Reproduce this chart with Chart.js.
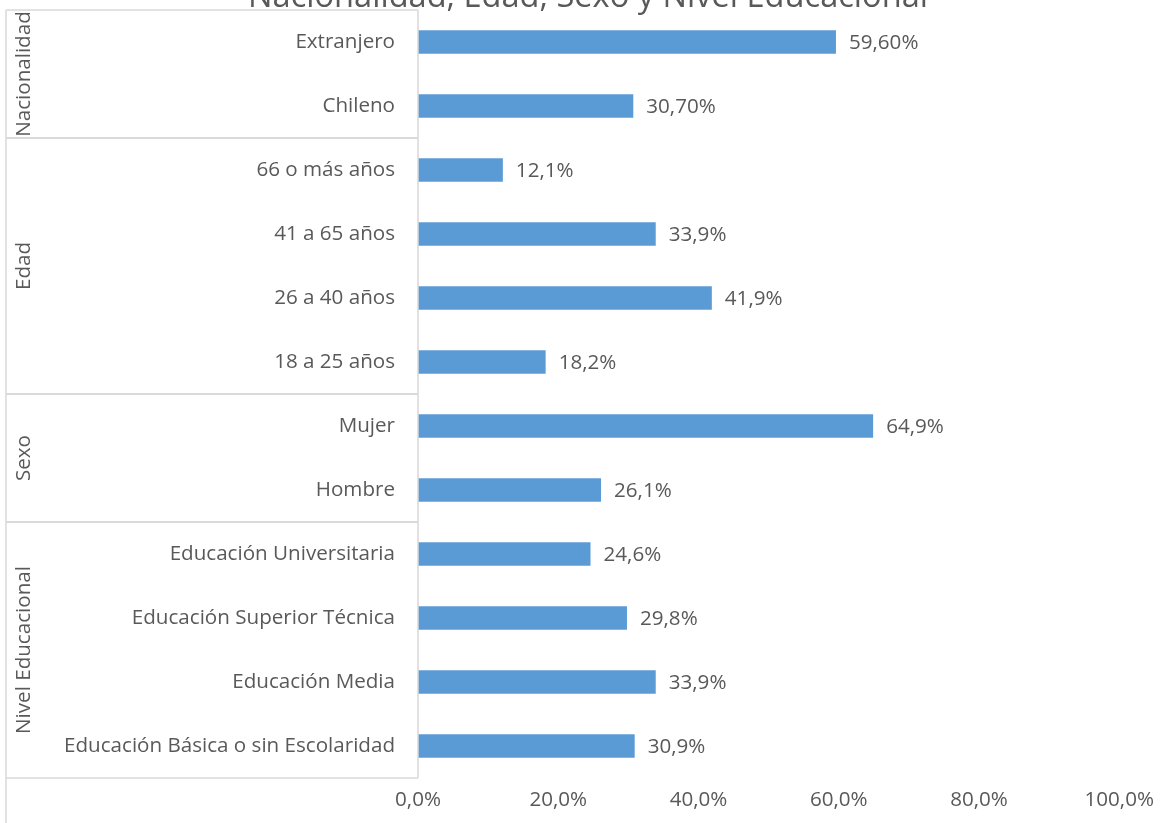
<!DOCTYPE html>
<html>
<head>
<meta charset="utf-8">
<script src="https://cdn.jsdelivr.net/npm/chart.js@4.4.1/dist/chart.umd.min.js"></script>
<style>
  html, body { margin: 0; padding: 0; background: #fff; }
  #wrap { width: 1164px; height: 823px; position: relative; }
</style>
</head>
<body>
<div id="wrap"><canvas id="barChart"></canvas></div>
<script>
const ctx = document.getElementById("barChart").getContext("2d");

const TITLE = "Nacionalidad, Edad, Sexo y Nivel Educacional";
const categories = [
  "Extranjero", "Chileno",
  "66 o más años", "41 a 65 años", "26 a 40 años", "18 a 25 años",
  "Mujer", "Hombre",
  "Educación Universitaria", "Educación Superior Técnica", "Educación Media", "Educación Básica o sin Escolaridad",
];
const values = [59.6, 30.7, 12.1, 33.9, 41.9, 18.2, 64.9, 26.1, 24.6, 29.8, 33.9, 30.9];
const valueLabels = [
  "59,60%", "30,70%", "12,1%", "33,9%", "41,9%", "18,2%",
  "64,9%", "26,1%", "24,6%", "29,8%", "33,9%", "30,9%",
];
const groupNames = ["Nacionalidad", "Edad", "Sexo", "Nivel Educacional"];
const groupSizes = [2, 4, 2, 4];
const xTicks = [0, 20, 40, 60, 80, 100];

const TEXT = "#595959";
const LINE = "#d9d9d9";
const BAR = "#5b9bd5";
const FONT = "'Open Sans', sans-serif";
const FS = 20.6;

const fmtPct = (v) => v.toFixed(1).replace(".", ",") + "%";

// title, group boxes, rotated group names and value labels
const decorations = {
  id: "decorations",
  afterDatasetsDraw(chart) {
    const c = chart.ctx;
    const y = chart.scales.y;
    const area = chart.chartArea;
    const step = y.getPixelForValue(1) - y.getPixelForValue(0);
    const left = 6;
    const right = area.left;

    c.save();
    // title (partly out of view at the top)
    c.fillStyle = TEXT;
    c.font = "32.6px " + FONT;
    c.textAlign = "center";
    c.textBaseline = "alphabetic";
    c.fillText(TITLE, chart.width / 2 + 6, 7);

    // group box lines
    c.strokeStyle = LINE;
    c.lineWidth = 1.5;
    c.beginPath();
    c.moveTo(left, area.top);
    c.lineTo(left, chart.height);
    c.moveTo(right, area.top);
    c.lineTo(right, area.bottom);
    c.stroke();

    let start = 0;
    groupNames.forEach((name, i) => {
      const top = y.getPixelForValue(start) - step / 2;
      const bottom = y.getPixelForValue(start + groupSizes[i] - 1) + step / 2;
      c.beginPath();
      c.moveTo(left, top);
      c.lineTo(right, top);
      c.moveTo(left, bottom);
      c.lineTo(right, bottom);
      c.stroke();

      c.save();
      c.translate(24, (top + bottom) / 2);
      c.rotate(-Math.PI / 2);
      c.fillStyle = TEXT;
      c.font = FS + "px " + FONT;
      c.textAlign = "center";
      c.textBaseline = "middle";
      c.fillText(name, 0, 0);
      c.restore();
      start += groupSizes[i];
    });

    // value labels
    const meta = chart.getDatasetMeta(0);
    c.fillStyle = TEXT;
    c.font = FS + "px " + FONT;
    c.textAlign = "left";
    c.textBaseline = "middle";
    meta.data.forEach((bar, i) => {
      c.fillText(valueLabels[i], bar.x + 13, bar.y + 1);
    });
    c.restore();
  },
};

new Chart(ctx, {
  type: "bar",
  data: {
    labels: categories,
    datasets: [
      {
        data: values,
        backgroundColor: BAR,
        borderWidth: 0,
        barPercentage: 0.37,
        categoryPercentage: 1,
      },
    ],
  },
  options: {
    indexAxis: "y",
    responsive: true,
    maintainAspectRatio: false,
    animation: false,
    layout: { padding: { top: 10, right: 43, bottom: 0, left: 0 } },
    plugins: {
      legend: { display: false },
      title: { display: false },
      tooltip: { enabled: false },
    },
    scales: {
      x: {
        min: 0,
        max: 100,
        afterBuildTicks: (scale) => {
          scale.ticks = xTicks.map((v) => ({ value: v }));
        },
        afterFit: (scale) => {
          scale.height = 45;
        },
        grid: { display: false, drawTicks: false },
        border: { display: false },
        ticks: {
          color: TEXT,
          font: { family: FONT, size: FS },
          padding: 10,
          maxRotation: 0,
          callback: (v) => fmtPct(v),
        },
      },
      y: {
        afterFit: (scale) => {
          scale.width = 418;
          scale.paddingTop = 0;
          scale.paddingBottom = 0;
        },
        grid: { display: false, drawTicks: false },
        border: { display: false },
        ticks: {
          color: TEXT,
          font: { family: FONT, size: FS },
          padding: 23,
        },
      },
    },
  },
  plugins: [decorations],
});
</script>
</body>
</html>
